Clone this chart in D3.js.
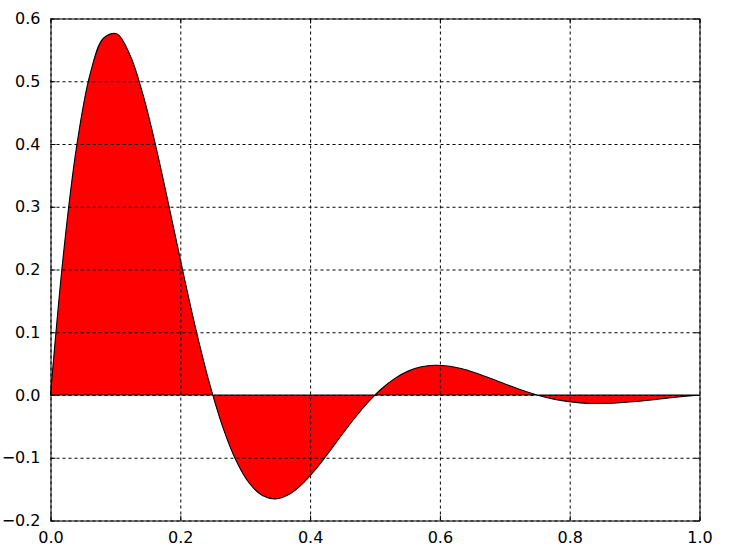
<!DOCTYPE html>
<html><head><meta charset="utf-8">
<script src="https://cdn.jsdelivr.net/npm/d3@7"></script>
<style>
body{margin:0;background:#fff;}
svg{display:block;}
text{font-family:"DejaVu Sans",sans-serif;}
</style></head>
<body>
<svg id="c" width="738" height="558"></svg>
<script>
// x positions (fractions of the axis, 50 samples) and values
const xValues = d3.range(50).map(i => i / 49);
const yValues = [
  0, 0.22906, 0.40012, 0.51223, 0.56856, 0.57556, 0.54185, 0.47727, 0.39193, 0.29550,
  0.19664, 0.10257, 0.018832, -0.050730, -0.10398, -0.14028, -0.16027, -0.16560, -0.15860, -0.14204,
  -0.11881, -0.091728, -0.063367, -0.035902, -0.011048, 0.009974, 0.026432, 0.038042, 0.044903, 0.047423,
  0.046231, 0.042093, 0.035836, 0.028281, 0.020184, 0.012200, 0.0048536, -0.0014689, -0.0065236, -0.010199,
  -0.012497, -0.013508, -0.013417, -0.012424, -0.010763, -0.0086674, -0.0063672, -0.0040555, -0.0018931, 0
];
const xTicks = [0, 0.2, 0.4, 0.6, 0.8, 1.0];
const yTicks = [-0.2, -0.1, 0.0, 0.1, 0.2, 0.3, 0.4, 0.5, 0.6];

const svg = d3.select("#c");
const L = 50.5, R = 699.5, T = 18.5, B = 520.5;
const x = d3.scaleLinear().domain([0, 1]).range([L, R]);
const y = d3.scaleLinear().domain([-0.2, 0.6]).range([B, T]);

const pts = xValues.map((v, i) => [v, yValues[i]]);

// filled polygon: smooth curve, closed straight back along y = 0
const curve = d3.line().x(d => x(d[0])).y(d => y(d[1])).curve(d3.curveCatmullRom.alpha(0.5));
svg.append("path")
  .attr("d", curve(pts) + "Z")
  .attr("fill", "#ff0000")
  .attr("stroke", "#000")
  .attr("stroke-width", 1.1)
  .attr("stroke-linejoin", "round");

const fmt = d => d3.format(".1f")(d).replace("-", "\u2212");

// grid
const gridX = svg.append("g").attr("transform", `translate(0,${B})`)
  .call(d3.axisBottom(x).tickValues(xTicks).tickSize(-(B - T)).tickFormat(""));
const gridY = svg.append("g").attr("transform", `translate(${L},0)`)
  .call(d3.axisLeft(y).tickValues(yTicks).tickSize(-(R - L)).tickFormat(""));
[gridX, gridY].forEach(g => {
  g.select(".domain").remove();
  g.selectAll("line").attr("stroke", "#000").attr("stroke-width", 1).attr("stroke-dasharray", "3,3");
});

// axes with inward ticks
function styleAxis(g) {
  g.select(".domain").attr("stroke", "#000").attr("stroke-width", 1);
  g.selectAll(".tick line").attr("stroke", "#000").attr("stroke-width", 1);
  g.selectAll("text").attr("font-family", "DejaVu Sans").attr("font-size", 16).attr("fill", "#000");
}
const ax = svg.append("g").attr("transform", `translate(0,${B})`)
  .call(d3.axisBottom(x).tickValues(xTicks).tickSizeInner(-5).tickSizeOuter(0).tickPadding(11).tickFormat(fmt));
styleAxis(ax);
const axTop = svg.append("g").attr("transform", `translate(0,${T})`)
  .call(d3.axisTop(x).tickValues(xTicks).tickSizeInner(-5).tickSizeOuter(0).tickFormat(""));
styleAxis(axTop);
const ay = svg.append("g").attr("transform", `translate(${L},0)`)
  .call(d3.axisLeft(y).tickValues(yTicks).tickSizeInner(-5).tickSizeOuter(0).tickPadding(10).tickFormat(fmt));
styleAxis(ay);
const ayR = svg.append("g").attr("transform", `translate(${R},0)`)
  .call(d3.axisRight(y).tickValues(yTicks).tickSizeInner(-5).tickSizeOuter(0).tickFormat(""));
styleAxis(ayR);
</script>
</body></html>
